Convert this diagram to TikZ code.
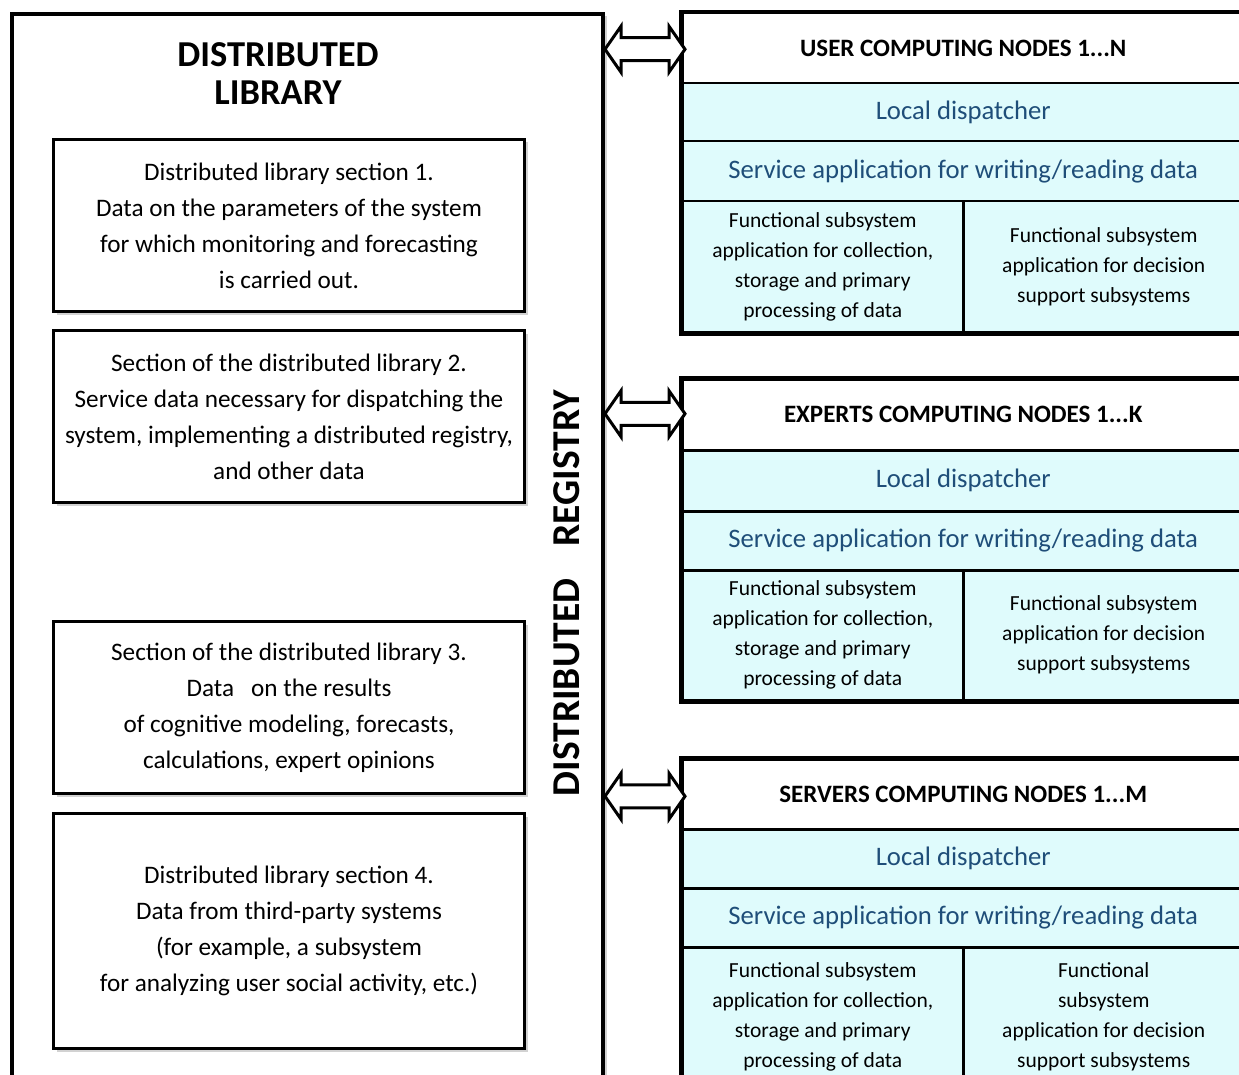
\documentclass[tikz,border=0pt]{standalone}
\usepackage{fontspec}
\setmainfont{Carlito}
\usetikzlibrary{shadows,calc}
\definecolor{cyanbg}{RGB}{223,251,252}
\definecolor{bluetxt}{RGB}{31,78,121}
\tikzset{
  libbox/.style={draw, line width=4, fill=white, anchor=north west, inner sep=0,
    drop shadow={shadow xshift=4pt, shadow yshift=-2pt, opacity=0.35}},
  secbox/.style={draw, line width=3, fill=white, align=center, inner sep=0,
    minimum width=471, anchor=north west, font=\fontsize{25.2}{36}\selectfont,
    drop shadow={shadow xshift=3pt, shadow yshift=-3pt, opacity=0.35}},
  hdrcell/.style={draw, line width=2.5, fill=white, anchor=north west, inner sep=0,
    minimum width=562, font=\bfseries\fontsize{25}{28}\selectfont},
  bluecell/.style={draw, line width=2.5, fill=cyanbg, anchor=north west, inner sep=0,
    minimum width=562, text=bluetxt, font=\fontsize{26.7}{30}\selectfont},
  funccell/.style={draw, line width=2.5, fill=cyanbg, anchor=north west, inner sep=0,
    minimum width=281, align=center, font=\fontsize{21.5}{30}\selectfont},
  outerline/.style={draw, line width=4},
  darrow/.style={draw, line width=3, fill=white, line join=miter}
}
\newcommand{\blockarrow}[2]{%
  \draw[darrow] (#1) -- ++(16,-23) -- ++(0,11.5) -- ($(#2)+(-16,-11.5)$) -- ++(0,-11.5)
    -- (#2) -- ++(-16,23) -- ++(0,-11.5) -- ($(#1)+(16,11.5)$) -- ++(0,11.5) -- cycle;}
\begin{document}
\begin{tikzpicture}[x=1pt,y=-1pt]
\useasboundingbox (0,0) rectangle (1239,1075);
\begin{scope}
\clip (0,0) rectangle (1239,1075);
\fill[white] (0,0) rectangle (1239,1075);
% library
\node[libbox, minimum width=591, minimum height=1100] (lib) at (10,12) {};
\node[font=\bfseries\fontsize{36.5}{38}\selectfont, align=center] (libt) at (278,74) {DISTRIBUTED\\LIBRARY};
\node[secbox, minimum height=172] (s1) at (52,138) {Distributed library section 1.\\Data on the parameters of the system\\for which monitoring and forecasting\\is carried out.};
\node[secbox, minimum height=172] (s2) at (52,329) {Section of the distributed library 2.\\Service data necessary for dispatching the\\system, implementing a distributed registry,\\and other data};
\node[secbox, minimum height=172] (s3) at (52,620) {Section of the distributed library 3.\\Data\ \ \ on the results\\of cognitive modeling, forecasts,\\calculations, expert opinions};
\node[secbox, minimum height=235] (s4) at (52,812) {Distributed library section 4.\\Data from third-party systems\\(for example, a subsystem\\for analyzing user social activity, etc.)};
\node[rotate=90, font=\bfseries\fontsize{39.5}{42}\selectfont] (reg) at (567,593) {DISTRIBUTED\hspace{32pt}REGISTRY};

% USER
\node[hdrcell, minimum height=70] (uh) at (681,12) {USER COMPUTING NODES 1...N};
\node[bluecell, minimum height=58] (ul) at (681,82) {Local dispatcher};
\node[bluecell, minimum height=60] (us) at (681,140) {Service application for writing/reading data};
\node[funccell, minimum height=131] (uf1) at (681,200) {Functional subsystem\\application for collection,\\storage and primary\\processing of data};
\node[funccell, minimum height=131] (uf2) at (962,200) {Functional subsystem\\application for decision\\support subsystems};
\draw[outerline] (uh.north west) rectangle (uf2.south east);

% EXPERTS
\node[hdrcell, minimum height=71] (eh) at (681,378) {EXPERTS COMPUTING NODES 1...K};
\node[bluecell, minimum height=61] (el) at (681,449) {Local dispatcher};
\node[bluecell, minimum height=59] (es) at (681,510) {Service application for writing/reading data};
\node[funccell, minimum height=130] (ef1) at (681,569) {Functional subsystem\\application for collection,\\storage and primary\\processing of data};
\node[funccell, minimum height=130] (ef2) at (962,569) {Functional subsystem\\application for decision\\support subsystems};
\draw[outerline] (eh.north west) rectangle (ef2.south east);

% SERVERS
\node[hdrcell, minimum height=70] (sh) at (681,758) {SERVERS COMPUTING NODES 1...M};
\node[bluecell, minimum height=59] (sl) at (681,828) {Local dispatcher};
\node[bluecell, minimum height=59] (ss) at (681,887) {Service application for writing/reading data};
\node[funccell, minimum height=140] (sf1) at (681,946) {Functional subsystem\\application for collection,\\storage and primary\\processing of data};
\node[funccell, minimum height=140] (sf2) at (962,946) {Functional\\subsystem\\application for decision\\support subsystems};
\draw[outerline] (sh.north west) rectangle (sf2.south east);

% arrows
\coordinate (la1) at ($(lib.east |- uh.west)+(0,1)$);
\coordinate (ra1) at ($(uh.west)+(4,1)$);
\coordinate (la2) at ($(lib.east |- eh.west)+(0,-1)$);
\coordinate (ra2) at ($(eh.west)+(4,-1)$);
\coordinate (la3) at ($(lib.east |- sh.west)+(0,2)$);
\coordinate (ra3) at ($(sh.west)+(4,2)$);
\blockarrow{la1}{ra1}
\blockarrow{la2}{ra2}
\blockarrow{la3}{ra3}
\end{scope}
\end{tikzpicture}
\end{document}
